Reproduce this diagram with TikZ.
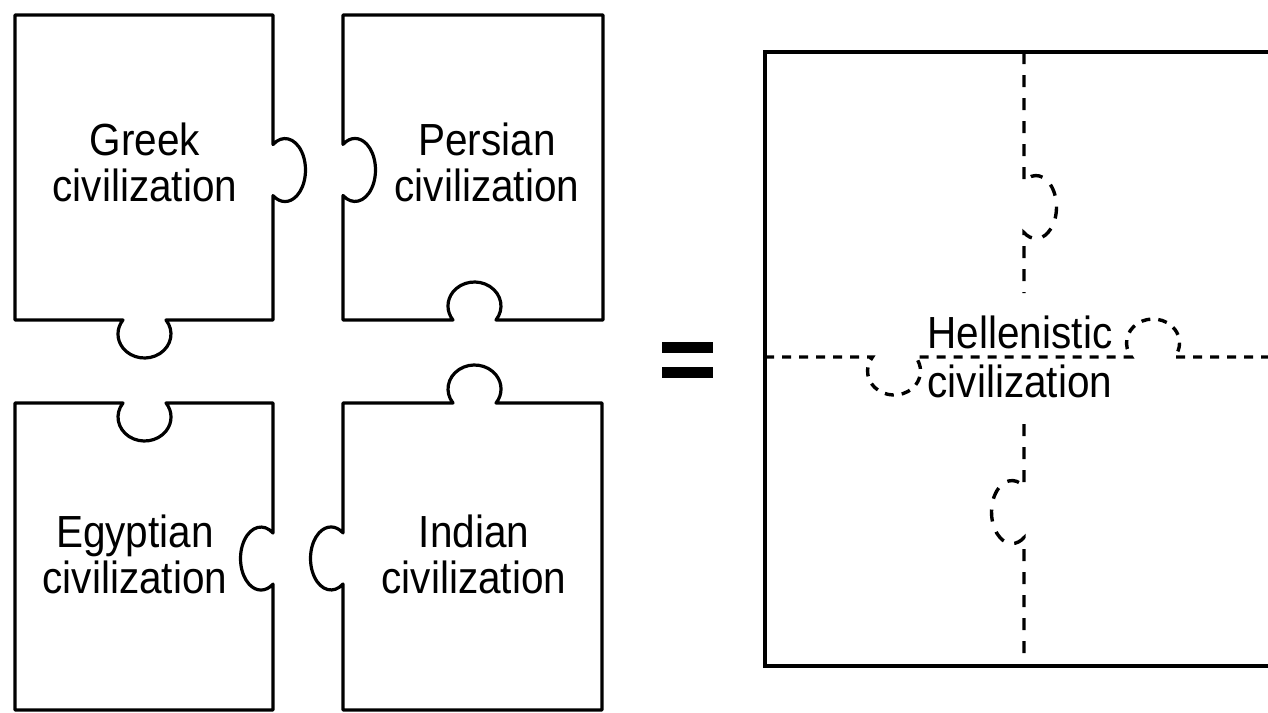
\documentclass[tikz,border=0pt]{standalone}
\usepackage{fontspec}
\setmainfont{Liberation Sans}
\begin{document}
\begin{tikzpicture}[x=0.5pt,y=-0.5pt,
  piece/.style={draw=black, line width=1.6pt, line join=round},
  bigsq/.style={draw=black, line width=1.8pt, line join=miter},
  txt/.style={font=\fontsize{22.5}{23}\selectfont, align=center, inner sep=0pt, xscale=0.9, transform shape, anchor=base},
  vdash/.style={draw=black, line width=1.7pt, dash pattern=on 6pt off 5.5pt},
  hdash/.style={draw=black, line width=1.7pt, dash pattern=on 4.5pt off 4pt},
  hk/.style={x radius=26.5, y radius=24},
  vk/.style={x radius=20.5, y radius=31.5}]
\useasboundingbox (0,0) rectangle (1268,712);
\clip (0,0) rectangle (1268,712);

% Greek piece
\draw[piece] (15,15) -- (273,15) -- (273,144.5)
  arc[start angle=-125.8, end angle=125.8, vk] -- (273,320) -- (166,320)
  arc[start angle=-35.7, end angle=215.7, hk] -- (15,320) -- cycle;
% Persian piece
\draw[piece] (343,15) -- (603,15) -- (603,320) -- (496,320)
  arc[start angle=35.7, end angle=-215.7, hk] -- (343,320) -- (343,195.5)
  arc[start angle=125.8, end angle=-125.8, vk] -- cycle;
% Egyptian piece
\draw[piece] (15,403) -- (123,403)
  arc[start angle=215.7, end angle=-35.7, hk] -- (273,403) -- (273,533)
  arc[start angle=-54.2, end angle=-305.8, vk] -- (273,710) -- (15,710) -- cycle;
% Indian piece
\draw[piece] (343,403) -- (453,403)
  arc[start angle=144.3, end angle=395.7, hk] -- (602,403) -- (602,710) -- (343,710) -- (343,584)
  arc[start angle=54.2, end angle=305.8, vk] -- cycle;

\node[txt] (greek) at (145,201) {Greek\\civilization};
\node[txt] (persian) at (487,201) {Persian\\civilization};
\node[txt] (egyptian) at (135,593) {Egyptian\\civilization};
\node[txt] (indian) at (474,593) {Indian\\civilization};

% equals sign
\fill[black] (662,342) rectangle (713,353);
\fill[black] (662,367) rectangle (713,378);

% combined square
\draw[bigsq] (1290,52) -- (765,52) -- (765,666) -- (1290,666);
\draw[vdash] (1024,52) -- (1024,181.5)
  arc[start angle=-125.8, end angle=125.8, vk] -- (1024,293);
\draw[vdash] (1024,424) -- (1024,486.5)
  arc[start angle=-54.2, end angle=-305.8, vk] -- (1024,666);
\draw[hdash] (765,357) -- (872.5,357)
  arc[start angle=215.7, end angle=-35.7, hk] -- (1131.5,357)
  arc[start angle=144.3, end angle=395.7, hk] -- (1290,357);

\node[txt, font=\fontsize{22.5}{24.5}\selectfont] (hellen) at (1020,397) {Hellenistic\\civilization};
\end{tikzpicture}
\end{document}
